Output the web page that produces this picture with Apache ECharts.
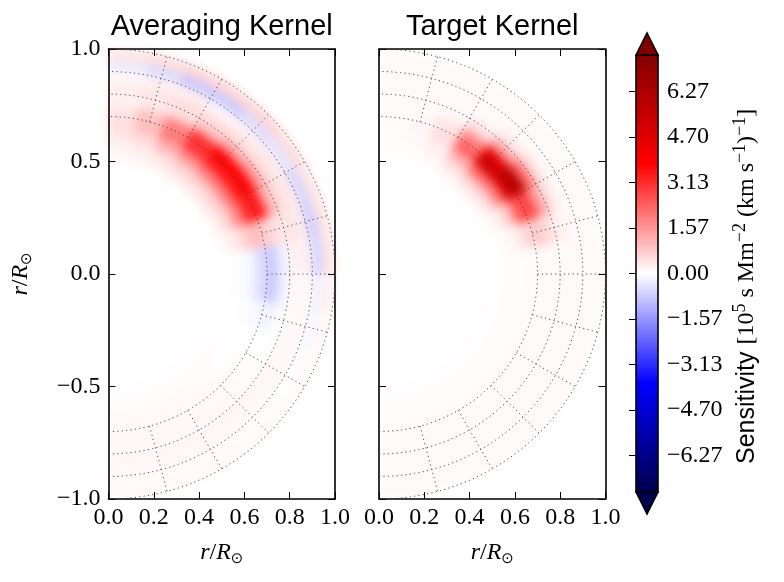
<!DOCTYPE html>
<html>
<head>
<meta charset="utf-8">
<script src="https://cdn.jsdelivr.net/npm/echarts@6/dist/echarts.min.js"></script>
<style>
  html, body { margin: 0; padding: 0; background: #fff; }
  #wrap { position: relative; width: 784px; height: 582px; }
  #heat, #main { position: absolute; left: 0; top: 0; width: 784px; height: 582px; }
  #heat { filter: blur(5px); }
</style>
</head>
<body>
<div id="wrap">
  <div id="heat"></div>
  <div id="main"></div>
</div>
<script>
// ring centres (r/Rsun) and sector centres (degrees from the x axis)
const radii = [0.525, 0.575, 0.625, 0.675, 0.725, 0.775, 0.825, 0.875, 0.925, 0.975];
const angles = [-85, -75, -65, -55, -45, -35, -25, -15, -5, 5, 15, 25, 35, 45, 55, 65, 75, 85];

// one row per ring, one column per sector
const avgKernel = [
  [0.03, 0.03, 0.03, 0.03, 0.03, 0.03, 0.03, 0.0, 0.0, 0.0, 0.1, 0.2, 0.3, 0.3, 0.3, 0.2, 0.15, 0.1],
  [0.05, 0.05, 0.05, 0.05, 0.05, 0.05, 0.0, 0.0, -0.05, -0.05, 0.3, 0.7, 0.8, 0.8, 0.7, 0.5, 0.3, 0.2],
  [0.08, 0.08, 0.08, 0.08, 0.05, 0.0, 0.0, -0.05, -0.1, -0.1, 0.7, 1.8, 2.0, 2.0, 1.7, 1.2, 0.6, 0.4],
  [0.1, 0.1, 0.1, 0.1, 0.08, 0.05, 0.0, -0.1, -0.5, -0.5, 1.0, 3.2, 3.4, 3.4, 3.0, 2.0, 1.0, 0.5],
  [0.1, 0.1, 0.1, 0.1, 0.08, 0.05, 0.0, -0.2, -0.8, -0.8, 0.7, 3.4, 3.8, 3.8, 3.0, 1.8, 0.9, 0.4],
  [0.1, 0.1, 0.1, 0.1, 0.1, 0.05, 0.0, -0.05, -0.2, -0.2, 0.4, 1.2, 1.6, 1.4, 0.9, 0.5, 0.3, 0.2],
  [0.12, 0.12, 0.12, 0.12, 0.12, 0.12, 0.1, 0.1, 0.1, 0.2, 0.4, 0.5, 0.5, 0.5, 0.5, 0.5, 0.4, 0.3],
  [0.1, 0.1, 0.1, 0.1, 0.1, 0.1, 0.1, 0.1, 0.1, 0.2, 0.3, 0.3, 0.3, 0.2, 0.1, 0.2, 0.2, 0.1],
  [0.05, 0.05, 0.05, 0.05, 0.0, 0.0, -0.05, -0.1, -0.2, -0.6, -0.7, -0.6, -0.4, -0.5, -0.8, -0.8, -0.5, -0.3],
  [0.1, 0.1, 0.1, 0.1, 0.1, 0.1, 0.1, 0.1, 0.2, 0.4, 0.4, 0.4, 0.5, 0.6, 0.6, 0.6, 0.5, 0.4]
];

const targetKernel = [
  [0.03, 0.03, 0.03, 0.03, 0.03, 0.03, 0.03, 0.03, 0.03, 0.03, 0.03, 0.05, 0.12, 0.15, 0.1, 0.05, 0.03, 0.03],
  [0.04, 0.04, 0.04, 0.04, 0.04, 0.04, 0.04, 0.04, 0.04, 0.04, 0.06, 0.2, 0.6, 0.7, 0.4, 0.15, 0.05, 0.04],
  [0.05, 0.05, 0.05, 0.05, 0.05, 0.05, 0.05, 0.05, 0.05, 0.05, 0.2, 0.8, 2.0, 2.2, 1.2, 0.3, 0.1, 0.05],
  [0.06, 0.06, 0.06, 0.06, 0.06, 0.06, 0.06, 0.06, 0.06, 0.06, 0.6, 2.5, 5.0, 5.2, 2.4, 0.5, 0.12, 0.06],
  [0.08, 0.08, 0.08, 0.08, 0.08, 0.08, 0.08, 0.08, 0.08, 0.08, 0.8, 2.8, 6.0, 4.6, 1.8, 0.4, 0.1, 0.08],
  [0.08, 0.08, 0.08, 0.08, 0.08, 0.08, 0.08, 0.08, 0.08, 0.08, 0.5, 1.4, 2.2, 1.4, 0.5, 0.12, 0.08, 0.08],
  [0.08, 0.08, 0.08, 0.08, 0.08, 0.08, 0.08, 0.08, 0.08, 0.08, 0.2, 0.4, 0.5, 0.3, 0.12, 0.08, 0.08, 0.08],
  [0.08, 0.08, 0.08, 0.08, 0.08, 0.08, 0.08, 0.08, 0.08, 0.08, 0.08, 0.08, 0.08, 0.08, 0.08, 0.08, 0.08, 0.08],
  [0.08, 0.08, 0.08, 0.08, 0.08, 0.08, 0.08, 0.08, 0.08, 0.08, 0.08, 0.08, 0.08, 0.08, 0.08, 0.08, 0.08, 0.08],
  [0.08, 0.08, 0.08, 0.08, 0.08, 0.08, 0.08, 0.08, 0.08, 0.08, 0.08, 0.08, 0.08, 0.08, 0.08, 0.08, 0.08, 0.08]
];

const panelTitles = ['Averaging Kernel', 'Target Kernel'];
const cbarTicks = [-6.27, -4.70, -3.13, -1.57, 0, 1.57, 3.13, 4.70, 6.27];
const cbarMax = 7.52;
const ringRadii = [0.7, 0.8, 0.9, 1.0];
const spokeAngles = [-75, -60, -45, -30, -15, 0, 15, 30, 45, 60, 75];

const seismic = ['#00004c', '#0000ff', '#ffffff', '#ff0000', '#800000'];
const serif = '"Liberation Serif", "DejaVu Serif", serif';
const sans = '"Liberation Sans", Arial, sans-serif';

const panelGrids = [
  { left: 108.5, top: 49, width: 226.5, height: 450 },
  { left: 379, top: 49, width: 226.5, height: 450 }
];
const cbarBox = { left: 636, top: 55, width: 22, height: 437 };

const dr = radii[1] - radii[0];
const dth = angles[1] - angles[0];
const rad = d => d * Math.PI / 180;
const minus = s => s.replace('-', '\u2212');

function toCells(matrix) {
  const out = [];
  matrix.forEach((row, i) => {
    row.forEach((v, j) => out.push([radii[i], angles[j], v]));
  });
  return out;
}

// annular sector for one (r, theta) cell
function renderCell(params, api) {
  const r = api.value(0);
  const th = api.value(1);
  const r0 = r - dr / 2, r1 = r + dr / 2;
  const a0 = rad(th - dth / 2), a1 = rad(th + dth / 2);
  const pts = [];
  const n = 8;
  for (let k = 0; k <= n; k++) {
    const a = a0 + (a1 - a0) * k / n;
    pts.push(api.coord([r1 * Math.cos(a), r1 * Math.sin(a)]));
  }
  for (let k = n; k >= 0; k--) {
    const a = a0 + (a1 - a0) * k / n;
    pts.push(api.coord([r0 * Math.cos(a), r0 * Math.sin(a)]));
  }
  const c = api.visual('color');
  return { type: 'polygon', shape: { points: pts }, style: { fill: c, stroke: c, lineWidth: 0.6 } };
}

const dotted = { stroke: '#3a3a3a', lineWidth: 0.9, lineDash: [1.2, 3.2], fill: null };

function renderRing(params, api) {
  const r = api.value(0);
  const pts = [];
  for (let k = 0; k <= 90; k++) {
    const a = rad(-90 + k * 2);
    pts.push(api.coord([r * Math.cos(a), r * Math.sin(a)]));
  }
  return { type: 'polyline', shape: { points: pts }, style: dotted };
}

function renderSpoke(params, api) {
  const a = rad(api.value(0));
  const rIn = ringRadii[0], rOut = ringRadii[ringRadii.length - 1];
  const p0 = api.coord([rIn * Math.cos(a), rIn * Math.sin(a)]);
  const p1 = api.coord([rOut * Math.cos(a), rOut * Math.sin(a)]);
  return { type: 'line', shape: { x1: p0[0], y1: p0[1], x2: p1[0], y2: p1[1] }, style: dotted };
}

// ============ heat layer (blurred underneath) ===============
const heatChart = echarts.init(document.getElementById('heat'), null, { renderer: 'canvas' });
heatChart.setOption({
  animation: false,
  backgroundColor: '#fff',
  grid: panelGrids,
  xAxis: panelGrids.map((g, i) => ({ gridIndex: i, type: 'value', min: 0, max: 1, show: false })),
  yAxis: panelGrids.map((g, i) => ({ gridIndex: i, type: 'value', min: -1, max: 1, show: false })),
  visualMap: {
    type: 'continuous',
    show: false,
    min: -cbarMax,
    max: cbarMax,
    dimension: 2,
    seriesIndex: [0, 1],
    inRange: { color: seismic }
  },
  series: [avgKernel, targetKernel].map((m, i) => ({
    type: 'custom',
    xAxisIndex: i,
    yAxisIndex: i,
    renderItem: renderCell,
    data: toCells(m)
  }))
});

// ============ axes, grid lines, colour bar ===============
const nameRich = {
  i: { fontFamily: serif, fontStyle: 'italic', fontSize: 24, lineHeight: 28, color: '#000' },
  n: { fontFamily: serif, fontSize: 24, lineHeight: 28, color: '#000' },
  s: { fontFamily: 'DejaVu Sans', fontSize: 15, lineHeight: 14, verticalAlign: 'bottom', color: '#000' }
};
const axisName = '{i|r}{n|/}{i|R}{s|\u2299}';

const tickStyle = { inside: true, length: 7, lineStyle: { color: '#000', width: 1 } };
const lineStyle = { onZero: false, lineStyle: { color: '#000', width: 1.6 } };
const labelFont = { fontFamily: serif, fontSize: 24, color: '#000' };

const xAxes = [];
const yAxes = [];
panelGrids.forEach((g, i) => {
  xAxes.push({
    gridIndex: i, type: 'value', position: 'bottom', min: 0, max: 1, interval: 0.2,
    axisLine: lineStyle, axisTick: tickStyle, splitLine: { show: false },
    axisLabel: Object.assign({ margin: 7, formatter: v => v.toFixed(1) }, labelFont),
    name: axisName, nameLocation: 'middle', nameGap: 40, nameTextStyle: { rich: nameRich }
  });
  xAxes.push({
    gridIndex: i, type: 'value', position: 'top', min: 0, max: 1, interval: 0.2,
    axisLine: lineStyle, axisTick: tickStyle, splitLine: { show: false }, axisLabel: { show: false }
  });
  yAxes.push({
    gridIndex: i, type: 'value', position: 'left', min: -1, max: 1, interval: 0.5,
    axisLine: lineStyle, axisTick: tickStyle, splitLine: { show: false },
    axisLabel: Object.assign({ show: i === 0, margin: 8, formatter: v => minus(v.toFixed(1)) }, labelFont),
    name: i === 0 ? axisName : '', nameLocation: 'middle', nameGap: 74, nameRotate: 90,
    nameTextStyle: { rich: nameRich }
  });
  yAxes.push({
    gridIndex: i, type: 'value', position: 'right', min: -1, max: 1, interval: 0.5,
    axisLine: lineStyle, axisTick: tickStyle, splitLine: { show: false }, axisLabel: { show: false }
  });
});
xAxes.push({ gridIndex: 2, type: 'value', min: 0, max: 1, show: false });
yAxes.push({
  gridIndex: 2, type: 'value', position: 'right', min: -cbarMax, max: cbarMax,
  axisLine: { show: false }, splitLine: { show: false },
  axisTick: { inside: true, length: 7, customValues: cbarTicks, lineStyle: { color: '#000', width: 1 } },
  axisLabel: Object.assign({ margin: 9, customValues: cbarTicks, formatter: v => minus(v.toFixed(2)) }, labelFont)
});

const series = [];
panelGrids.forEach((g, i) => {
  series.push({
    type: 'custom', xAxisIndex: 2 * i, yAxisIndex: 2 * i, z: 5,
    renderItem: renderRing, data: ringRadii.map(r => [r, 0])
  });
  series.push({
    type: 'custom', xAxisIndex: 2 * i, yAxisIndex: 2 * i, z: 5,
    renderItem: renderSpoke, data: spokeAngles.map(a => [a, 0])
  });
});

const cb = cbarBox;
const graphics = [
  {
    type: 'rect', z: 10,
    shape: { x: cb.left, y: cb.top, width: cb.width, height: cb.height },
    style: {
      fill: new echarts.graphic.LinearGradient(0, 0, 0, 1, [
        { offset: 0, color: seismic[4] },
        { offset: 0.25, color: seismic[3] },
        { offset: 0.5, color: seismic[2] },
        { offset: 0.75, color: seismic[1] },
        { offset: 1, color: seismic[0] }
      ]),
      stroke: '#000', lineWidth: 1.6
    }
  },
  {
    type: 'polygon', z: 10,
    shape: { points: [[cb.left, cb.top], [cb.left + cb.width / 2, cb.top - 22], [cb.left + cb.width, cb.top]] },
    style: { fill: seismic[4], stroke: '#000', lineWidth: 1.6 }
  },
  {
    type: 'polygon', z: 10,
    shape: { points: [[cb.left, cb.top + cb.height], [cb.left + cb.width / 2, cb.top + cb.height + 22], [cb.left + cb.width, cb.top + cb.height]] },
    style: { fill: seismic[0], stroke: '#000', lineWidth: 1.6 }
  },
  {
    type: 'text', z: 10, x: 747, y: 464, rotation: Math.PI / 2,
    style: {
      text: '{a|Sensitivity }{b|[10}{p|5}{b| s Mm}{p|\u22122}{b| (km s}{p|\u22121}{b|)}{p|\u22121}{b|]}',
      align: 'left', verticalAlign: 'middle',
      rich: {
        a: { fontFamily: sans, fontSize: 25, lineHeight: 32, fill: '#000' },
        b: { fontFamily: serif, fontSize: 24, lineHeight: 32, fill: '#000' },
        p: { fontFamily: serif, fontSize: 18, lineHeight: 18, verticalAlign: 'top', fill: '#000' }
      }
    }
  }
];
panelGrids.forEach((g, i) => {
  graphics.push({
    type: 'text', z: 10, x: g.left + g.width / 2, y: 12,
    style: { text: panelTitles[i], align: 'center', verticalAlign: 'top', font: '29px ' + sans, fill: '#000' }
  });
});

const myChart = echarts.init(document.getElementById('main'), null, { renderer: 'canvas' });
myChart.setOption({
  animation: false,
  grid: panelGrids.concat([cbarBox]),
  xAxis: xAxes,
  yAxis: yAxes,
  series: series,
  graphic: graphics
});
</script>
</body>
</html>
